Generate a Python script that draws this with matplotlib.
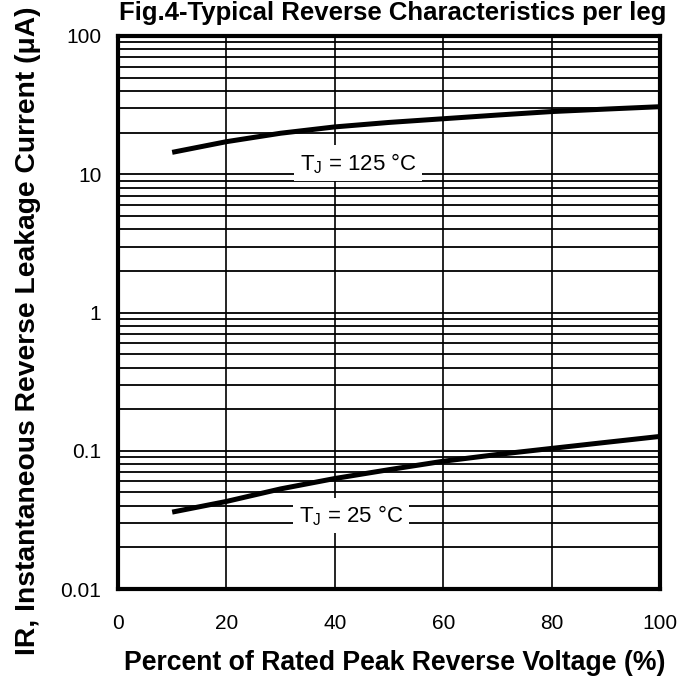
import matplotlib
matplotlib.use("Agg")
import matplotlib.pyplot as plt
from matplotlib.ticker import LogLocator, FixedLocator, NullFormatter

# Data
voltage_pct = [10, 20, 30, 40, 50, 60, 70, 80, 90, 100]
ir_125c = [14.4, 17.2, 19.8, 22.0, 23.7, 25.2, 26.8, 28.4, 29.6, 30.8]
ir_25c = [0.036, 0.043, 0.053, 0.063, 0.073, 0.084, 0.094, 0.104, 0.115, 0.127]

x_ticks = [0, 20, 40, 60, 80, 100]
y_ticks = [0.01, 0.1, 1, 10, 100]
y_tick_labels = ["0.01", "0.1", "1", "10", "100"]

fam = ["Liberation Sans", "DejaVu Sans"]

plt.rcParams["mathtext.fontset"] = "custom"
plt.rcParams["mathtext.rm"] = "Liberation Sans"


def main():
    fig = plt.figure(figsize=(6.94, 6.79), dpi=100)
    ax = fig.add_axes([0.170, 0.1325, 0.781, 0.8145])

    ax.set_yscale("log")
    ax.set_xlim(0, 100)
    ax.set_ylim(0.01, 100)

    # grid: every minor decade line + vertical lines every 20 %
    ax.yaxis.set_major_locator(FixedLocator(y_ticks))
    ax.yaxis.set_minor_locator(LogLocator(base=10, subs=range(2, 10)))
    ax.yaxis.set_minor_formatter(NullFormatter())
    ax.xaxis.set_major_locator(FixedLocator(x_ticks))
    ax.grid(True, which="both", axis="y", color="black", lw=1.3)
    ax.grid(True, which="major", axis="x", color="black", lw=1.2)
    ax.set_axisbelow(True)

    ax.plot(voltage_pct, ir_125c, color="black", lw=3.6, solid_capstyle="butt", zorder=3)
    ax.plot(voltage_pct, ir_25c, color="black", lw=3.6, solid_capstyle="butt", zorder=3)

    box = dict(boxstyle="square,pad=0.25", fc="white", ec="none")
    ax.text(44.3, 12.0, "T$_\\mathregular{J}$ = 125 °C", fontsize=16,
            family=fam, ha="center", va="center", bbox=box, zorder=2)
    ax.text(43.0, 0.034, "T$_\\mathregular{J}$ = 25 °C", fontsize=16,
            family=fam, ha="center", va="center", bbox=box, zorder=2)

    ax.set_yticks(y_ticks)
    ax.set_yticklabels(y_tick_labels)
    ax.set_xticks(x_ticks)
    ax.set_xticklabels([str(t) for t in x_ticks])
    ax.tick_params(which="both", length=0)
    ax.tick_params(axis="y", pad=12)
    ax.tick_params(axis="x", pad=18)
    for lab in ax.get_xticklabels() + ax.get_yticklabels():
        lab.set_family(fam)
        lab.set_fontsize(15)

    for sp in ax.spines.values():
        sp.set_linewidth(3)

    ax.set_xlabel("Percent of Rated Peak Reverse Voltage (%)", family=fam,
                  fontsize=19.2, fontweight="bold")
    ax.xaxis.set_label_coords(0.511, -0.111)
    ax.set_ylabel("IR, Instantaneous Reverse Leakage Current (μA)", family=fam,
                  fontsize=20.3, fontweight="bold")
    ax.yaxis.set_label_coords(-0.142, 0.467)
    fig.text(0.566, 1 - 20 / 679, "Fig.4-Typical Reverse Characteristics per leg",
             family=fam, fontsize=18.5, fontweight="bold", ha="center", va="baseline")

    fig.savefig("out.png", dpi=100)


if __name__ == "__main__":
    main()
